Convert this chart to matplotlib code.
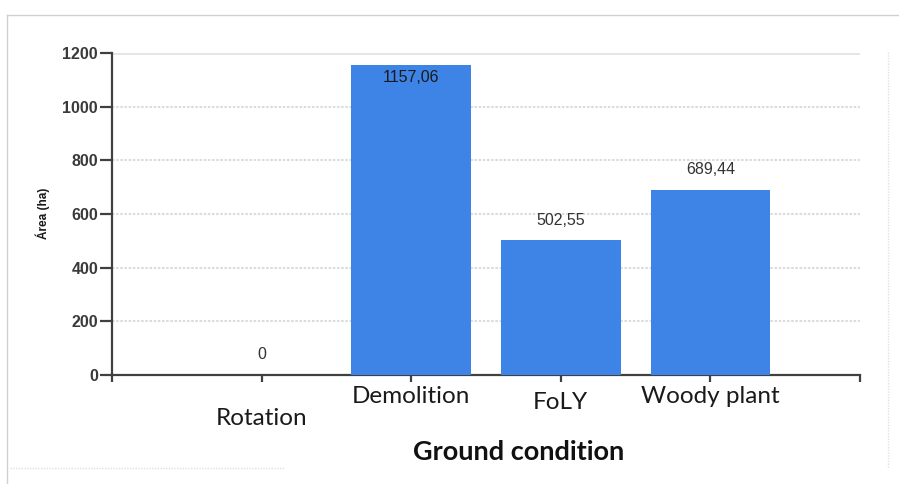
import matplotlib
matplotlib.use("Agg")
import matplotlib.pyplot as plt
from matplotlib.lines import Line2D

categories = ["Rotation", "Demolition", "FoLY", "Woody plant"]
values = [0, 1157.06, 502.55, 689.44]
value_labels = ["0", "1157,06", "502,55", "689,44"]
yticks = [0, 200, 400, 600, 800, 1000, 1200]

W, H = 899, 484
fig = plt.figure(figsize=(W / 100, H / 100), dpi=100)
ax = fig.add_axes([112 / W, 1 - 375 / H, (860 - 112) / W, (375 - 53) / H])

bar_color = "#3d84e6"
x = list(range(len(categories)))
ax.bar(x, values, width=0.8, color=bar_color, zorder=3)

ax.set_xlim(-1, 4)
ax.set_ylim(0, 1200)

# grid
for v in yticks[1:]:
    if v == 1200:
        ax.axhline(v, color="#e4e4e4", lw=2.0, zorder=1)
    else:
        ax.axhline(v, color="#dcdcdc", lw=1.5, ls=(0, (1.2, 0.8)), zorder=1)

for s in ["top", "right"]:
    ax.spines[s].set_visible(False)
for s in ["left", "bottom"]:
    ax.spines[s].set_color("#404040")
    ax.spines[s].set_linewidth(1.6)

sans = ["Liberation Sans", "DejaVu Sans"]
ax.set_yticks(yticks)
ax.set_yticklabels([str(v) for v in yticks], family=sans, fontsize=11.5,
                   color="#3a3a3a", fontweight="bold")
ax.tick_params(axis="y", length=9, width=1.6, color="#404040", pad=1)

ax.set_xticks(x)
ax.set_xticklabels([])
ax.set_xticks([-1, 4], minor=True)
ax.tick_params(axis="x", which="both", length=5, width=1.6, color="#404040")

# category labels with individual vertical offsets (axes fraction)
label_y = [-0.134, -0.068, -0.085, -0.068]
for xi, cat, yy in zip(x, categories, label_y):
    ax.text(xi, yy, cat, transform=ax.get_xaxis_transform(), ha="center",
            va="center", fontsize=17.5, family=["Lato", "DejaVu Sans"],
            color="#1a1a1a", clip_on=False)

# value labels
for xi, v, lab in zip(x, values, value_labels):
    if v > 1100:
        ax.text(xi, v - 50, lab, ha="center", va="center", fontsize=11.5,
                family=sans, color="#1a1a1a", zorder=4)
    else:
        ax.text(xi, v + 75, lab, ha="center", va="center", fontsize=11.5,
                family=sans, color="#333333", zorder=4)

fig.text(43 / W, 1 - 213 / H, "Área (ha)", rotation=90, ha="center",
         va="center", fontsize=8.5, fontweight="bold", family=sans,
         color="#1a1a1a")
fig.text(519 / W, 1 - 452 / H, "Ground condition", ha="center", va="center",
         fontsize=19.5, fontweight="bold", family=["Lato", "DejaVu Sans"],
         color="#111111")

# outer light frame
def fl(x0, y0, x1, y1, **kw):
    fig.add_artist(Line2D([x0 / W, x1 / W], [1 - y0 / H, 1 - y1 / H],
                          transform=fig.transFigure, **kw))

fl(7, 15, 899, 15, color="#d0d0d0", lw=1.0)
fl(7, 15, 7, 484, color="#d0d0d0", lw=1.0)
fl(10, 468, 285, 468, color="#e0e0e0", lw=1.0, ls=(0, (1, 1)))
fl(888, 52, 888, 468, color="#e0e0e0", lw=1.0, ls=(0, (1, 1)))

fig.savefig("out.png", dpi=100)
